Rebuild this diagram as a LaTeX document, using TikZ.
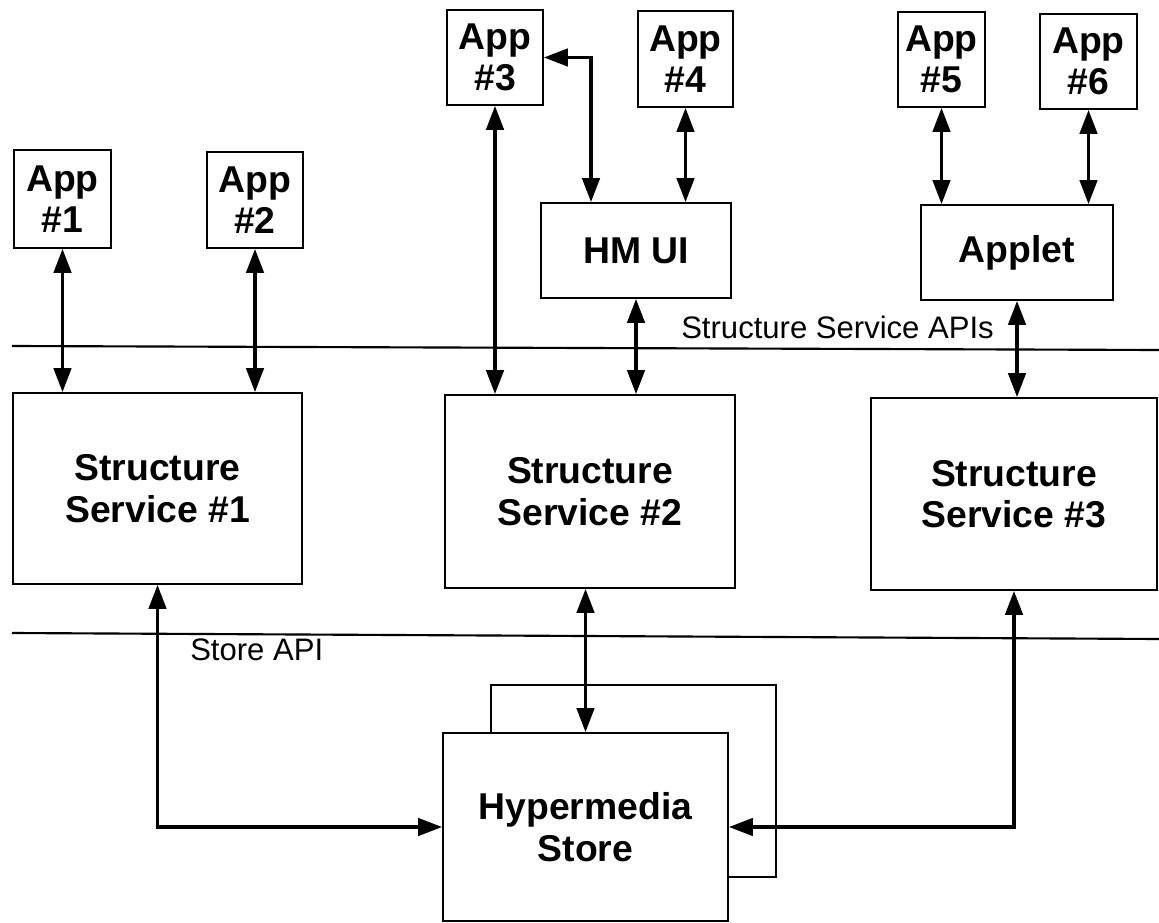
\documentclass[tikz,border=0pt]{standalone}
\usepackage{fontspec}
\setmainfont{Liberation Sans}
\usetikzlibrary{arrows.meta}

\tikzset{
  box/.style={draw, line width=1.3pt, fill=white, align=center, inner sep=0pt, font=\fontsize{28}{31}\selectfont\bfseries},
  wh/.style 2 args={minimum width=#1*0.75pt, minimum height=#2*0.75pt},
  conn/.style={line width=2.6pt, {Triangle[length=18pt,width=13pt]}-{Triangle[length=18pt,width=13pt]}},
  apiline/.style={line width=1.6pt},
  apilabel/.style={inner sep=0pt, anchor=base west, font=\fontsize{23.3}{28}\selectfont}
}

\begin{document}
\begin{tikzpicture}[x=0.75pt,y=0.75pt,yscale=-1,xscale=1]
\useasboundingbox (0,0) rectangle (1159,923);

%Straight Lines
\draw[apiline] (12,346) -- (1159,350);
\draw[apiline] (12,633) -- (1159,639);

% Text Node
\node[apilabel] (ssapi) at (681,339) {Structure Service APIs};
% Text Node
\node[apilabel] (stapi) at (190,660) {Store API};

%Shape: Rectangle
\node[box, wh={285}{192}] (storeback) at (633.5,781) {};
\node[box, wh={285}{188}] (store) at (585.5,827) {Hypermedia\\Store};

%Shape: Rectangle
\node[box, wh={289}{191}] (ss1) at (157.5,488.5) {Structure\\Service \#1};
\node[box, wh={290}{193}] (ss2) at (590,491.5) {Structure\\Service \#2};
\node[box, wh={286}{192}] (ss3) at (1014,494) {Structure\\Service \#3};

%Shape: Rectangle
\node[box, wh={190}{95}] (hmui) at (636,250.5) {HM UI};
\node[box, wh={192}{95}] (applet) at (1017,252.5) {Applet};

%Shape: Rectangle
\node[box, wh={97}{98}] (app1) at (62.5,199) {App\\\#1};
\node[box, wh={96}{96}] (app2) at (255,200) {App\\\#2};
\node[box, wh={96}{95}] (app3) at (495,57.5) {App\\\#3};
\node[box, wh={95}{96}] (app4) at (685.5,59) {App\\\#4};
\node[box, wh={87}{95}] (app5) at (941.5,59.5) {App\\\#5};
\node[box, wh={97}{95}] (app6) at (1088.5,61.5) {App\\\#6};

%Connectors
\draw[conn] (app1.south) -- (app1.south |- ss1.north);
\draw[conn] (app2.south) -- (app2.south |- ss1.north);
\draw[conn] (app3.south) -- (app3.south |- ss2.north);
\draw[conn] (app3.east) -| ([xshift=-33.75pt]hmui.north);
\draw[conn] (app4.south) -- (app4.south |- hmui.north);
\draw[conn] (hmui.south) -- (hmui.south |- ss2.north);
\draw[conn] (app5.south) -- (app5.south |- applet.north);
\draw[conn] (app6.south) -- (app6.south |- applet.north);
\draw[conn] (applet.south) -- (applet.south |- ss3.north);
\draw[conn] (store.north |- ss2.south) -- (store.north);
\draw[conn] (ss1.south) |- (store.west);
\draw[conn] (ss3.south) |- (store.east);

\end{tikzpicture}
\end{document}
